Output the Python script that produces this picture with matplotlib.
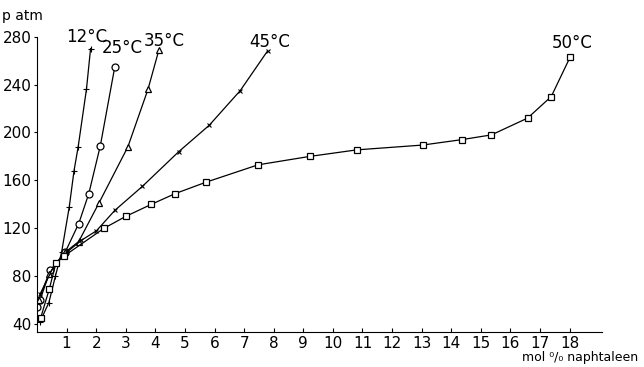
import matplotlib.pyplot as plt

# mol % naphtaleen / druk (atm)
x_12 = [0.10, 0.40, 0.62, 0.83, 1.09, 1.25, 1.39, 1.67, 1.81]
p_12 = [42, 58, 80, 100, 138, 168, 188, 236, 270]

x_25 = [0.01, 0.10, 0.45, 0.95, 1.41, 1.75, 2.14, 2.63]
p_25 = [54, 60, 85, 100, 124, 149, 189, 255]

x_35 = [0.05, 0.40, 0.95, 1.41, 2.09, 3.07, 3.75, 4.12]
p_35 = [60, 82, 100, 109, 141, 188, 236, 269]

x_45 = [0.10, 0.60, 1.00, 1.50, 2.01, 2.63, 3.56, 4.79, 5.82, 6.87, 7.79]
p_45 = [65, 90, 100, 110, 118, 135, 155, 184, 206, 235, 268]

x_50 = [0.12, 0.41, 0.64, 0.92, 2.26, 3.00, 3.86, 4.67, 5.71, 7.47, 9.21,
        10.81, 13.03, 14.35, 15.36, 16.58, 17.38, 18.02]
p_50 = [45, 69, 91, 97, 120, 130, 140, 149, 158.5, 173, 180,
        185.5, 189.5, 194, 198, 212, 230, 263]

x_ticks = list(range(1, 19))
y_ticks = [40, 80, 120, 160, 200, 240, 280]

plt.rcParams['font.family'] = ['DejaVu Sans']

fig = plt.figure(figsize=(6.44, 3.67), dpi=100)
ax = fig.add_axes([0.0575, 0.0954, 0.8775, 0.8146])

lw = 0.9
ax.plot(x_12, p_12, color='black', lw=lw, marker='+', ms=4, mew=0.8)
ax.plot(x_25, p_25, color='black', lw=lw, marker='o', ms=5, mfc='white', mew=0.9)
ax.plot(x_35, p_35, color='black', lw=lw, marker='^', ms=4, mfc='white', mew=0.9)
ax.plot(x_45, p_45, color='black', lw=lw, marker='x', ms=2.5, mew=0.8)
ax.plot(x_50, p_50, color='black', lw=lw, marker='s', ms=4, mfc='white', mew=0.9)

ax.set_xlim(0, 19.1)
ax.set_ylim(33.5, 283)
ax.set_xticks(x_ticks)
ax.set_yticks(y_ticks)
ax.tick_params(axis='x', direction='in', length=3, labelsize=11, pad=3)
ax.tick_params(axis='y', direction='out', length=2, labelsize=11, pad=2)
for s in ['top', 'right']:
    ax.spines[s].set_visible(False)
ax.spines['left'].set_bounds(33.5, 280)

# temperatuurlabels
for t, xp, yp in [('12°C', 87, 37), ('25°C', 122, 48), ('35°C', 164, 41),
                  ('45°C', 270, 42), ('50°C', 572, 43)]:
    fig.text(xp / 644, 1 - yp / 367, t, fontsize=12, ha='center', va='center')

fig.text(2 / 644, 1 - 16 / 367, 'p atm', fontsize=10, ha='left', va='center')
fig.text(580 / 644, 1 - 358 / 367, 'mol ⁰/₀ naphtaleen', fontsize=9,
         ha='center', va='center')

fig.savefig('out.png', dpi=100)
